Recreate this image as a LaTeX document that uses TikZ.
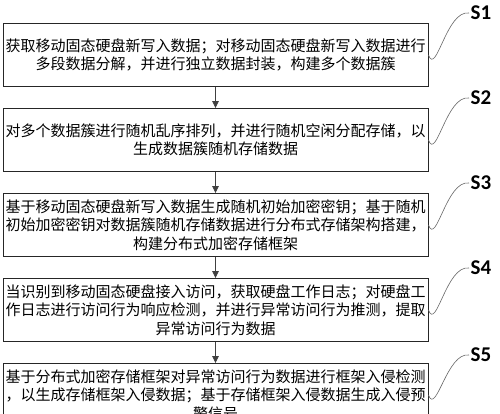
\documentclass[tikz,border=0pt]{standalone}
\usepackage{fontspec}
\newfontfamily\cjk{Noto Sans CJK SC}
\newfontfamily\lab{Carlito}
\usetikzlibrary{arrows.meta}
\begin{document}
\begin{tikzpicture}[x=1pt,y=-1pt,
 stepbox/.style={draw=black!85, line width=0.9pt, minimum width=425pt, minimum height=63pt, inner sep=0pt, align=center, font=\cjk\fontsize{15}{18.5}\selectfont},
 flow/.style={draw=black!75, line width=0.8pt, -{Triangle[length=7pt,width=6.5pt]}},
 tag/.style={font=\lab\bfseries\fontsize{21}{24}\selectfont, inner sep=1.5pt, anchor=west},
 lead/.style={draw=black!60, line width=0.6pt}]
\useasboundingbox (0,0) rectangle (500,414);
\fill[white] (0,0) rectangle (500,414);
\begin{scope}
\clip (0,0) rectangle (500,414);
\node[stepbox] (b1) at (215.5,55) {获取移动固态硬盘新写入数据；对移动固态硬盘新写入数据进行\\多段数据分解，并进行独立数据封装，构建多个数据簇};
\node[stepbox] (b2) at (215.5,140) {对多个数据簇进行随机乱序排列，并进行随机空闲分配存储，以\\生成数据簇随机存储数据};
\node[stepbox] (b3) at (215.5,225) {基于移动固态硬盘新写入数据生成随机初始加密密钥；基于随机\\初始加密密钥对数据簇随机存储数据进行分布式存储架构搭建，\\构建分布式加密存储框架};
\node[stepbox] (b4) at (215.5,310) {当识别到移动固态硬盘接入访问，获取硬盘工作日志；对硬盘工\\作日志进行访问行为响应检测，并进行异常访问行为推测，提取\\异常访问行为数据};
\node[stepbox] (b5) at (215.5,395) {基于分布式加密存储框架对异常访问行为数据进行框架入侵检测\\，以生成存储框架入侵数据；基于存储框架入侵数据生成入侵预\\警信号};
\draw[flow] (b1.south) -- (b2.north);
\draw[flow] (b2.south) -- (b3.north);
\draw[flow] (b3.south) -- (b4.north);
\draw[flow] (b4.south) -- (b5.north);
\node[tag] (s1) at (469,13) {S1};
\node[tag] (s2) at (469,98) {S2};
\node[tag] (s3) at (469,183) {S3};
\node[tag] (s4) at (469,268) {S4};
\node[tag] (s5) at (469,355) {S5};
\draw[lead] (b1.east) to[out=-70,in=172] (s1.west);
\draw[lead] (b2.east) to[out=-70,in=172] (s2.west);
\draw[lead] (b3.east) to[out=-70,in=172] (s3.west);
\draw[lead] (b4.east) to[out=-70,in=172] (s4.west);
\draw[lead] (b5.east) to[out=-70,in=172] (s5.west);
\end{scope}
\end{tikzpicture}
\end{document}
